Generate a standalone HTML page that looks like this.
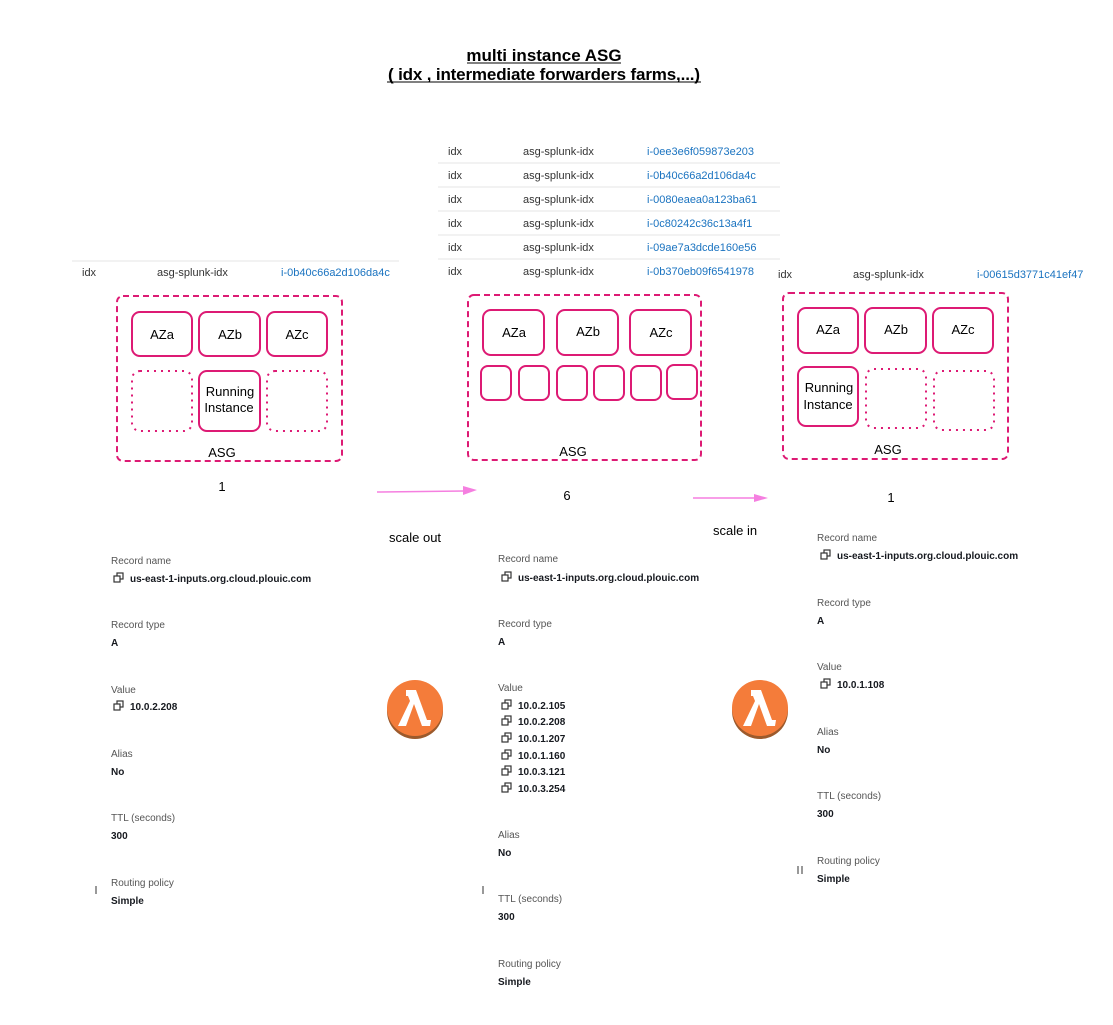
<!DOCTYPE html>
<html><head><meta charset="utf-8"><style>
html,body{margin:0;padding:0;background:#fff;}
svg{display:block;}
.t{font-family:"Liberation Sans",sans-serif;}
.lab{font-family:"Liberation Sans",sans-serif;font-size:10px;fill:#555;}
.val{font-family:"Liberation Sans",sans-serif;font-size:10px;fill:#16191f;font-weight:bold;}
.tbl{font-family:"Liberation Sans",sans-serif;font-size:11px;fill:#333;}
.lnk{font-family:"Liberation Sans",sans-serif;font-size:11px;fill:#1a73c0;}
.box{fill:#fff;stroke:#dd1a74;stroke-width:2;}
.dash{fill:none;stroke:#dd1a74;stroke-width:2;stroke-dasharray:6 4;}
.dot{fill:none;stroke:#dd1a74;stroke-width:2;stroke-dasharray:2 5;}
.n{font-family:"Liberation Sans",sans-serif;font-size:13px;fill:#000;text-anchor:middle;}
</style></head><body>
<svg width="1113" height="1025" viewBox="0 0 1113 1025" xmlns="http://www.w3.org/2000/svg">
<defs>
<g id="cp"><rect x="3" y="-6" width="6" height="6" fill="#fff" stroke="#333" stroke-width="1.2"/><rect x="0" y="-3" width="6" height="6" fill="#fff" stroke="#333" stroke-width="1.2"/></g>
<g id="lam">
<circle cx="0" cy="3" r="28" fill="#9c5a2c"/>
<circle cx="0" cy="0" r="28" fill="#f47c3a"/>
<path d="M-9,-18 L1,-18 L12,12 L16,12 L15,18 L7,18 L-1,-4 L-9,18 L-17,18 L-5,-7 L-7,-12 L-9,-12 Z" fill="#fff"/>
</g>
</defs>

<text class="t" x="544" y="61" font-size="17" font-weight="bold" text-anchor="middle">multi instance ASG</text>
<line x1="467" y1="63" x2="621" y2="63" stroke="#000" stroke-width="1"/>
<text class="t" x="544" y="80" font-size="17" font-weight="bold" text-anchor="middle" textLength="312">( idx , intermediate forwarders farms,...)</text>
<line x1="387" y1="82" x2="701" y2="82" stroke="#000" stroke-width="1"/>

<line x1="72" y1="261" x2="399" y2="261" stroke="#e6e6e6"/>
<text class="tbl" x="82" y="276">idx</text>
<text class="tbl" x="157" y="276">asg-splunk-idx</text>
<text class="lnk" x="281" y="276">i-0b40c66a2d106da4c</text>

<rect class="dash" x="117" y="296" width="225" height="165" rx="6"/>
<rect class="box" x="132" y="312" width="60" height="44" rx="8"/><text class="n" x="162" y="339">AZa</text>
<rect class="box" x="199" y="312" width="61" height="44" rx="8"/><text class="n" x="230" y="339">AZb</text>
<rect class="box" x="267" y="312" width="60" height="44" rx="8"/><text class="n" x="297" y="339">AZc</text>
<rect class="dot" x="132" y="371" width="60" height="60" rx="8"/>
<rect class="box" x="199" y="371" width="61" height="60" rx="8"/><text class="n" x="230" y="396">Running</text><text class="n" x="229" y="412">Instance</text>
<rect class="dot" x="267" y="371" width="60" height="60" rx="8"/>
<text class="n" x="222" y="457">ASG</text>
<text class="n" x="222" y="491">1</text>

<g>
<text class="tbl" x="448" y="155">idx</text><text class="tbl" x="523" y="155">asg-splunk-idx</text><text class="lnk" x="647" y="155">i-0ee3e6f059873e203</text>
<line x1="438" y1="163" x2="780" y2="163" stroke="#e6e6e6"/>
<text class="tbl" x="448" y="179">idx</text><text class="tbl" x="523" y="179">asg-splunk-idx</text><text class="lnk" x="647" y="179">i-0b40c66a2d106da4c</text>
<line x1="438" y1="187" x2="780" y2="187" stroke="#e6e6e6"/>
<text class="tbl" x="448" y="203">idx</text><text class="tbl" x="523" y="203">asg-splunk-idx</text><text class="lnk" x="647" y="203">i-0080eaea0a123ba61</text>
<line x1="438" y1="211" x2="780" y2="211" stroke="#e6e6e6"/>
<text class="tbl" x="448" y="227">idx</text><text class="tbl" x="523" y="227">asg-splunk-idx</text><text class="lnk" x="647" y="227">i-0c80242c36c13a4f1</text>
<line x1="438" y1="235" x2="780" y2="235" stroke="#e6e6e6"/>
<text class="tbl" x="448" y="251">idx</text><text class="tbl" x="523" y="251">asg-splunk-idx</text><text class="lnk" x="647" y="251">i-09ae7a3dcde160e56</text>
<line x1="438" y1="259" x2="780" y2="259" stroke="#e6e6e6"/>
<text class="tbl" x="448" y="275">idx</text><text class="tbl" x="523" y="275">asg-splunk-idx</text><text class="lnk" x="647" y="275">i-0b370eb09f6541978</text>
</g>

<rect class="dash" x="468" y="295" width="233" height="165" rx="6"/>
<rect class="box" x="483" y="310" width="61" height="45" rx="8"/><text class="n" x="514" y="337">AZa</text>
<rect class="box" x="557" y="310" width="61" height="45" rx="8"/><text class="n" x="588" y="336">AZb</text>
<rect class="box" x="630" y="310" width="61" height="45" rx="8"/><text class="n" x="661" y="337">AZc</text>
<rect class="box" x="481" y="366" width="30" height="34" rx="7"/>
<rect class="box" x="519" y="366" width="30" height="34" rx="7"/>
<rect class="box" x="557" y="366" width="30" height="34" rx="7"/>
<rect class="box" x="594" y="366" width="30" height="34" rx="7"/>
<rect class="box" x="631" y="366" width="30" height="34" rx="7"/>
<rect class="box" x="667" y="365" width="30" height="34" rx="7"/>
<text class="n" x="573" y="456">ASG</text>
<text class="n" x="567" y="500">6</text>

<text class="tbl" x="778" y="278">idx</text>
<text class="tbl" x="853" y="278">asg-splunk-idx</text>
<text class="lnk" x="977" y="278">i-00615d3771c41ef47</text>

<rect class="dash" x="783" y="293" width="225" height="166" rx="6"/>
<rect class="box" x="798" y="308" width="60" height="45" rx="8"/><text class="n" x="828" y="334">AZa</text>
<rect class="box" x="865" y="308" width="61" height="45" rx="8"/><text class="n" x="896" y="334">AZb</text>
<rect class="box" x="933" y="308" width="60" height="45" rx="8"/><text class="n" x="963" y="334">AZc</text>
<rect class="box" x="798" y="367" width="60" height="59" rx="8"/><text class="n" x="829" y="392">Running</text><text class="n" x="828" y="409">Instance</text>
<rect class="dot" x="866" y="369" width="60" height="59" rx="8"/>
<rect class="dot" x="934" y="371" width="60" height="59" rx="8"/>
<text class="n" x="888" y="454">ASG</text>
<text class="n" x="891" y="502">1</text>

<line x1="377" y1="492" x2="464" y2="491" stroke="#f57fe0" stroke-width="1.5"/>
<path d="M477,490 L463,486 L463,495 Z" fill="#f57fe0"/>
<line x1="693" y1="498" x2="756" y2="498" stroke="#f57fe0" stroke-width="1.5"/>
<path d="M768,498 L754,494 L754,502 Z" fill="#f57fe0"/>
<text class="t" x="389" y="542" font-size="13">scale out</text>
<text class="t" x="713" y="535" font-size="13">scale in</text>

<use href="#lam" x="415" y="708"/>
<use href="#lam" x="760" y="708"/>

<text class="lab" x="111" y="564">Record name</text>
<use href="#cp" x="114" y="579"/><text class="val" x="130" y="582" font-weight="normal">us-east-1-inputs.org.cloud.plouic.com</text>
<text class="lab" x="111" y="628">Record type</text>
<text class="val" x="111" y="646">A</text>
<text class="lab" x="111" y="693">Value</text>
<use href="#cp" x="114" y="707"/><text class="val" x="130" y="710" font-weight="normal">10.0.2.208</text>
<text class="lab" x="111" y="757">Alias</text>
<text class="val" x="111" y="775">No</text>
<text class="lab" x="111" y="821">TTL (seconds)</text>
<text class="val" x="111" y="839">300</text>
<text class="lab" x="111" y="886">Routing policy</text>
<text class="val" x="111" y="904">Simple</text>
<line x1="96" y1="886" x2="96" y2="894" stroke="#333"/>

<text class="lab" x="498" y="562">Record name</text>
<use href="#cp" x="502" y="578"/><text class="val" x="518" y="581" font-weight="normal">us-east-1-inputs.org.cloud.plouic.com</text>
<text class="lab" x="498" y="627">Record type</text>
<text class="val" x="498" y="645">A</text>
<text class="lab" x="498" y="691">Value</text>
<use href="#cp" x="502" y="706"/><text class="val" x="518" y="709" font-weight="normal">10.0.2.105</text>
<use href="#cp" x="502" y="722"/><text class="val" x="518" y="725" font-weight="normal">10.0.2.208</text>
<use href="#cp" x="502" y="739"/><text class="val" x="518" y="742" font-weight="normal">10.0.1.207</text>
<use href="#cp" x="502" y="756"/><text class="val" x="518" y="759" font-weight="normal">10.0.1.160</text>
<use href="#cp" x="502" y="772"/><text class="val" x="518" y="775" font-weight="normal">10.0.3.121</text>
<use href="#cp" x="502" y="789"/><text class="val" x="518" y="792" font-weight="normal">10.0.3.254</text>
<text class="lab" x="498" y="838">Alias</text>
<text class="val" x="498" y="856">No</text>
<text class="lab" x="498" y="902">TTL (seconds)</text>
<text class="val" x="498" y="920">300</text>
<text class="lab" x="498" y="967">Routing policy</text>
<text class="val" x="498" y="985">Simple</text>
<line x1="483" y1="886" x2="483" y2="894" stroke="#333"/>

<text class="lab" x="817" y="541">Record name</text>
<use href="#cp" x="821" y="556"/><text class="val" x="837" y="559" font-weight="normal">us-east-1-inputs.org.cloud.plouic.com</text>
<text class="lab" x="817" y="606">Record type</text>
<text class="val" x="817" y="624">A</text>
<text class="lab" x="817" y="670">Value</text>
<use href="#cp" x="821" y="685"/><text class="val" x="837" y="688" font-weight="normal">10.0.1.108</text>
<text class="lab" x="817" y="735">Alias</text>
<text class="val" x="817" y="753">No</text>
<text class="lab" x="817" y="799">TTL (seconds)</text>
<text class="val" x="817" y="817">300</text>
<text class="lab" x="817" y="864">Routing policy</text>
<text class="val" x="817" y="882">Simple</text>
<line x1="798" y1="866" x2="798" y2="874" stroke="#333"/>
<line x1="802" y1="866" x2="802" y2="874" stroke="#333"/>
</svg>
</body></html>
